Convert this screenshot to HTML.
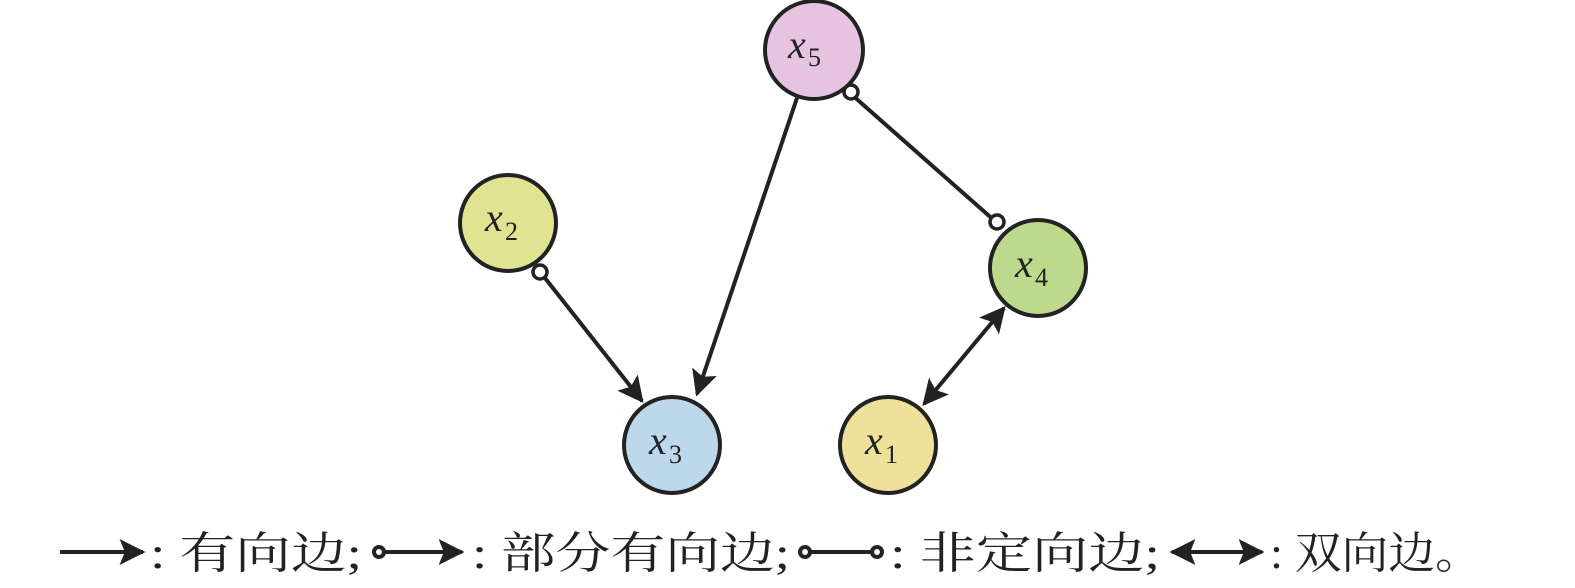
<!DOCTYPE html>
<html><head><meta charset="utf-8"><style>body{margin:0;background:#fff}svg{display:block}</style></head>
<body>
<svg width="1575" height="588" viewBox="0 0 1575 588" xmlns="http://www.w3.org/2000/svg">
<defs>
<marker id="ah" viewBox="0 0 10 10" refX="9" refY="5" markerWidth="6.5" markerHeight="6.5" orient="auto-start-reverse" markerUnits="strokeWidth">
<path d="M0,0 L10,5 L0,10 L2,5 z" fill="#222"/></marker>
</defs>
<g stroke="#222" stroke-width="4" fill="none">
<line x1="797" y1="98" x2="697" y2="394" marker-end="url(#ah)"/>
<line x1="541" y1="273" x2="642" y2="401" marker-end="url(#ah)"/>
<line x1="851" y1="94" x2="996" y2="222"/>
<line x1="924" y1="404" x2="1004" y2="308" marker-start="url(#ah)" marker-end="url(#ah)"/>
</g>
<g stroke="#222" stroke-width="4">
<circle cx="814" cy="50" r="49" fill="#e5c3e1"/>
<circle cx="508" cy="223" r="48" fill="#e0e490"/>
<circle cx="672" cy="445" r="48" fill="#bcd8ea"/>
<circle cx="1038" cy="268" r="48" fill="#bdd98c"/>
<circle cx="888" cy="445" r="48" fill="#efe09c"/>
</g>
<g stroke="#222" stroke-width="3.5" fill="#fff">
<circle cx="851" cy="92" r="7"/>
<circle cx="997" cy="222" r="7"/>
<circle cx="540" cy="272" r="7"/>
</g>
<g font-family="Liberation Serif, serif" font-size="40" fill="#222">
<text x="788" y="58" font-style="italic">x</text><text x="808" y="66" font-size="26">5</text>
<text x="485" y="231" font-style="italic">x</text><text x="505" y="240" font-size="26">2</text>
<text x="649" y="454" font-style="italic">x</text><text x="669" y="463" font-size="26">3</text>
<text x="1015" y="277" font-style="italic">x</text><text x="1035" y="286" font-size="26">4</text>
<text x="865" y="454" font-style="italic">x</text><text x="885" y="463" font-size="26">1</text>
</g>
<g stroke="#222" stroke-width="4" fill="#fff">
<line x1="60" y1="552" x2="143" y2="552" marker-end="url(#ah)"/>
<line x1="385" y1="552" x2="462" y2="552" marker-end="url(#ah)"/>
<circle cx="379" cy="552" r="5"/>
<line x1="805" y1="552" x2="877" y2="552"/>
<circle cx="805" cy="552" r="5"/><circle cx="877" cy="552" r="5"/>
<line x1="1172" y1="552" x2="1262" y2="552" marker-start="url(#ah)" marker-end="url(#ah)"/>
</g>
<g font-family="Liberation Serif, 'Noto Serif CJK SC', serif" font-size="44" fill="#222">
<text x="150" y="568" textLength="212" lengthAdjust="spacingAndGlyphs">: 有向边;</text>
<text x="472" y="568" textLength="318" lengthAdjust="spacingAndGlyphs">: 部分有向边;</text>
<text x="890" y="568" textLength="270" lengthAdjust="spacingAndGlyphs">: 非定向边;</text>
<text x="1270" y="568" textLength="212" lengthAdjust="spacingAndGlyphs">: 双向边。</text>
</g>
</svg>
</body></html>
